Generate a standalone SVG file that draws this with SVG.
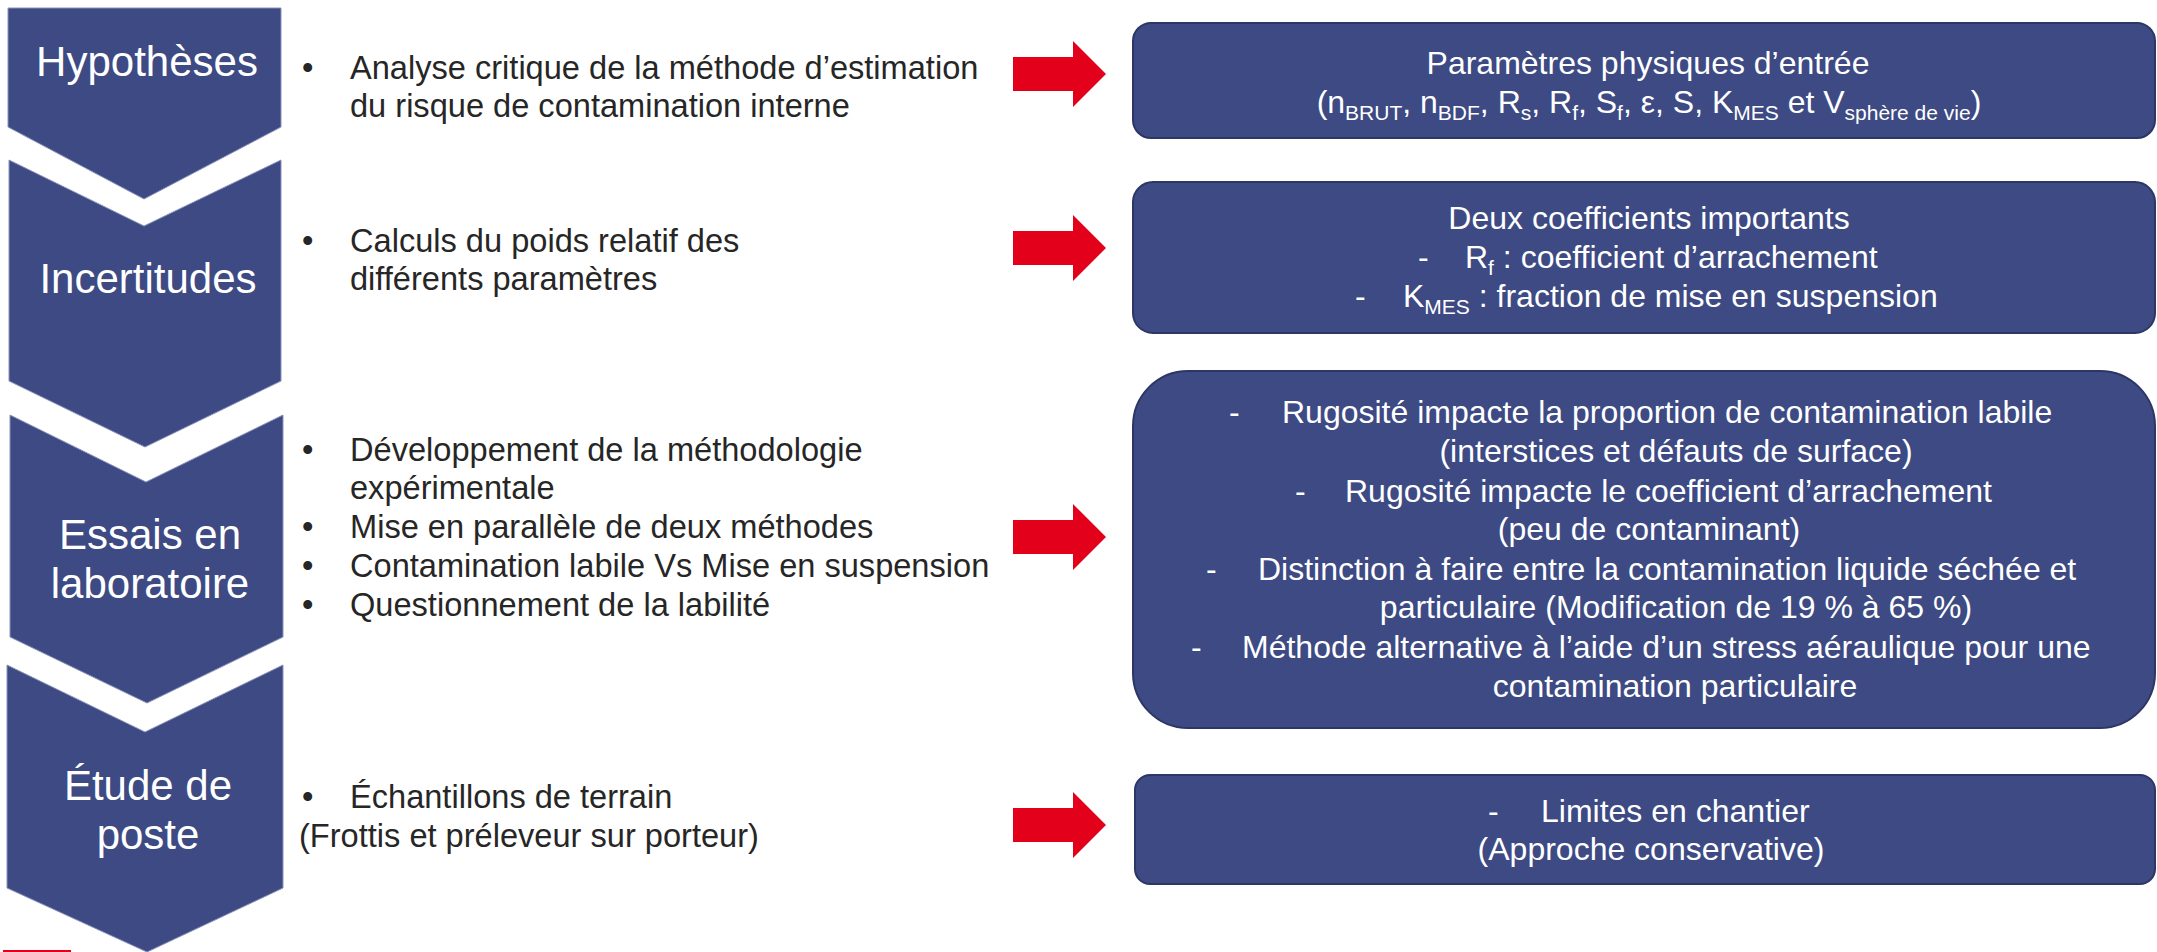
<svg xmlns="http://www.w3.org/2000/svg" width="2157" height="952" viewBox="0 0 2157 952">
  <style>
    .chev { fill: #3D4A83; stroke: #8A93B8; stroke-width: 1; }
    .box { fill: #3D4A83; stroke: #2C3766; stroke-width: 2; }
    .step { font-family: "Liberation Sans", Arial, sans-serif; font-size: 42px; fill: #ffffff; text-anchor: middle; }
    .body { font-family: "Liberation Sans", Arial, sans-serif; font-size: 32.6px; fill: #262626; }
    .wt { font-family: "Liberation Sans", Arial, sans-serif; font-size: 32px; fill: #ffffff; }
    .mid { text-anchor: middle; }
    .sub { font-size: 21px; }
    .arrow { fill: #E3001B; }
  </style>
  <defs>
    <path id="redArrow" d="M0,-17 H60 V-33 L93,0 L60,33 V17 H0 Z"/>
  </defs>

  <!-- process steps (chevrons) -->
  <g id="step-hypotheses">
    <path class="chev" d="M8,8 H281 V127 L144,199 L8,127 Z"/>
    <text class="step" x="147" y="76">Hypothèses</text>
  </g>
  <g id="step-incertitudes">
    <path class="chev" d="M9,160 L144,226 L281,160 V381 L145,447 L9,381 Z"/>
    <text class="step" x="148" y="293">Incertitudes</text>
  </g>
  <g id="step-essais">
    <path class="chev" d="M10,415 L146,482 L283,415 V637 L147,703 L10,637 Z"/>
    <text class="step" x="150" y="549">Essais en</text>
    <text class="step" x="150" y="598">laboratoire</text>
  </g>
  <g id="step-etude">
    <path class="chev" d="M7,665 L145,732 L283,665 V888 L147,952 L7,888 Z"/>
    <text class="step" x="148" y="800">Étude de</text>
    <text class="step" x="148" y="849">poste</text>
  </g>

  <!-- descriptions -->
  <g id="desc-hypotheses" class="body">
    <text x="302" y="79">•</text>
    <text x="350" y="79">Analyse critique de la méthode d’estimation</text>
    <text x="350" y="117">du risque de contamination interne</text>
  </g>
  <g id="desc-incertitudes" class="body">
    <text x="302" y="252">•</text>
    <text x="350" y="252">Calculs du poids relatif des</text>
    <text x="350" y="290">différents paramètres</text>
  </g>
  <g id="desc-essais" class="body">
    <text x="302" y="461">•</text>
    <text x="350" y="461">Développement de la méthodologie</text>
    <text x="350" y="499">expérimentale</text>
    <text x="302" y="538">•</text>
    <text x="350" y="538">Mise en parallèle de deux méthodes</text>
    <text x="302" y="577">•</text>
    <text x="350" y="577">Contamination labile Vs Mise en suspension</text>
    <text x="302" y="616">•</text>
    <text x="350" y="616">Questionnement de la labilité</text>
  </g>
  <g id="desc-etude" class="body">
    <text x="302" y="808">•</text>
    <text x="350" y="808">Échantillons de terrain</text>
    <text x="299" y="847">(Frottis et préleveur sur porteur)</text>
  </g>

  <!-- red arrows -->
  <g id="connectors" class="arrow">
    <use href="#redArrow" x="1013" y="74"/>
    <use href="#redArrow" x="1013" y="248"/>
    <use href="#redArrow" x="1013" y="537"/>
    <use href="#redArrow" x="1013" y="825"/>
  </g>

  <!-- result boxes -->
  <g id="result-parametres">
    <rect class="box" x="1133" y="23" width="1022" height="115" rx="18"/>
    <text class="wt mid" x="1648" y="74">Paramètres physiques d’entrée</text>
    <text class="wt mid" x="1649" y="113">(n<tspan class="sub" dy="7">BRUT</tspan><tspan dy="-7">, n</tspan><tspan class="sub" dy="7">BDF</tspan><tspan dy="-7">, R</tspan><tspan class="sub" dy="7">s</tspan><tspan dy="-7">, R</tspan><tspan class="sub" dy="7">f</tspan><tspan dy="-7">, S</tspan><tspan class="sub" dy="7">f</tspan><tspan dy="-7">, ε, S, K</tspan><tspan class="sub" dy="7">MES</tspan><tspan dy="-7"> et V</tspan><tspan class="sub" dy="7">sphère de vie</tspan><tspan dy="-7">)</tspan></text>
  </g>
  <g id="result-coefficients">
    <rect class="box" x="1133" y="182" width="1022" height="151" rx="20"/>
    <text class="wt mid" x="1649" y="229">Deux coefficients importants</text>
    <text class="wt" x="1418" y="268">-</text>
    <text class="wt" x="1465" y="268">R<tspan class="sub" dy="7">f</tspan><tspan dy="-7"> : coefficient d’arrachement</tspan></text>
    <text class="wt" x="1355" y="307">-</text>
    <text class="wt" x="1403" y="307">K<tspan class="sub" dy="7">MES</tspan><tspan dy="-7"> : fraction de mise en suspension</tspan></text>
  </g>
  <g id="result-essais">
    <rect class="box" x="1133" y="371" width="1022" height="357" rx="55"/>
    <text class="wt" x="1229" y="423">-</text>
    <text class="wt" x="1282" y="423">Rugosité impacte la proportion de contamination labile</text>
    <text class="wt mid" x="1676" y="462">(interstices et défauts de surface)</text>
    <text class="wt" x="1295" y="502">-</text>
    <text class="wt" x="1345" y="502">Rugosité impacte le coefficient d’arrachement</text>
    <text class="wt mid" x="1649" y="540">(peu de contaminant)</text>
    <text class="wt" x="1206" y="580">-</text>
    <text class="wt" x="1258" y="580">Distinction à faire entre la contamination liquide séchée et</text>
    <text class="wt mid" x="1676" y="618">particulaire (Modification de 19 % à 65 %)</text>
    <text class="wt" x="1191" y="658">-</text>
    <text class="wt" x="1242" y="658">Méthode alternative à l’aide d’un stress aéraulique pour une</text>
    <text class="wt mid" x="1675" y="697">contamination particulaire</text>
  </g>
  <g id="result-chantier">
    <rect class="box" x="1135" y="775" width="1020" height="109" rx="15"/>
    <text class="wt" x="1488" y="822">-</text>
    <text class="wt" x="1541" y="822">Limites en chantier</text>
    <text class="wt mid" x="1651" y="860">(Approche conservative)</text>
  </g>

  <!-- red accent rule -->
  <rect x="3" y="950" width="68" height="2" fill="#E3001B"/>
</svg>
